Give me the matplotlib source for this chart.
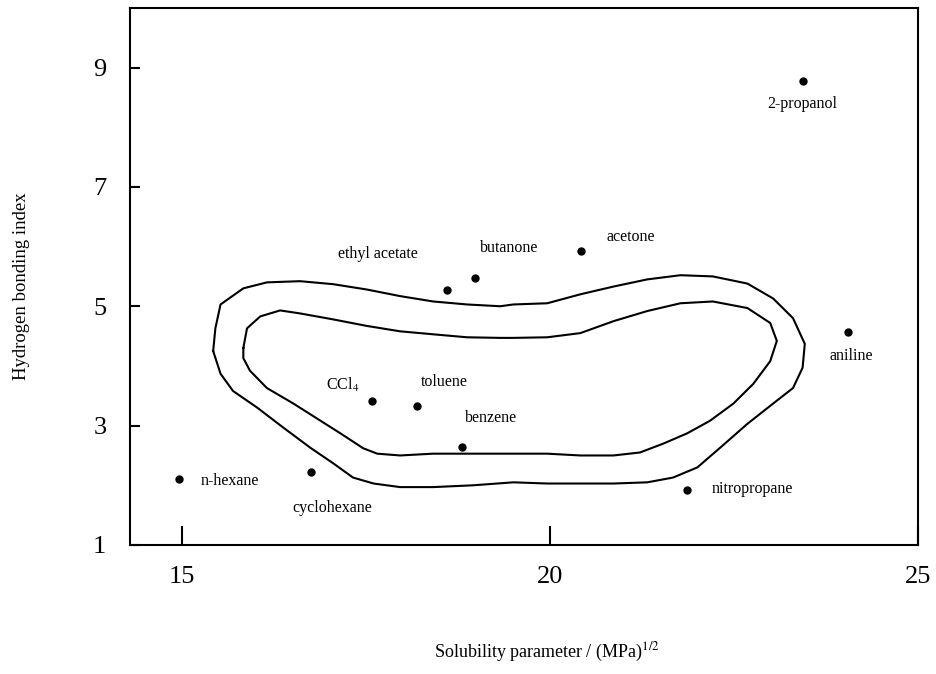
import numpy as np
import matplotlib.pyplot as plt

plt.rcParams['font.family'] = ['Liberation Serif', 'DejaVu Serif']
plt.rcParams['mathtext.fontset'] = 'stix'

# solvents: solubility parameter / (MPa)^1/2 and hydrogen bonding index
solvents = ['n-hexane', 'cyclohexane', 'CCl$_4$', 'toluene', 'benzene',
            'ethyl acetate', 'butanone', 'acetone', '2-propanol',
            'aniline', 'nitropropane']
delta = [14.95, 16.75, 17.58, 18.19, 18.80, 18.60, 18.98, 20.42, 23.44, 24.05, 21.86]
hbond = [2.10, 2.23, 3.42, 3.33, 2.65, 5.28, 5.47, 5.93, 8.77, 4.57, 1.92]

# label placement (offset in pixels, horizontal alignment)
label_offsets = [(22, -2, 'left'), (21, -36, 'center'), (-29, 16, 'center'),
                 (27, 24, 'center'), (29, 29, 'center'), (-69, 36, 'center'),
                 (34, 30, 'center'), (50, 14, 'center'), (-1, -23, 'center'),
                 (3, -24, 'center'), (25, 1, 'left')]

# solubility region boundaries (outer and inner)
outer_x = [15.42, 15.45, 15.52, 15.83, 16.15, 16.60, 17.05, 17.51, 17.96, 18.41,
           18.87, 19.32, 19.50, 19.96, 20.41, 20.86, 21.32, 21.77, 22.21, 22.68,
           23.03, 23.30, 23.46, 23.43, 23.30, 23.03, 22.68, 22.31, 22.00, 21.67,
           21.32, 20.86, 20.41, 19.96, 19.50, 18.95, 18.41, 17.96, 17.60, 17.32,
           17.05, 16.74, 16.37, 16.02, 15.69, 15.52]
outer_y = [4.25, 4.63, 5.03, 5.30, 5.40, 5.42, 5.37, 5.28, 5.17, 5.08,
           5.03, 5.00, 5.03, 5.05, 5.20, 5.33, 5.45, 5.52, 5.50, 5.38,
           5.13, 4.80, 4.37, 3.97, 3.63, 3.37, 3.03, 2.63, 2.30, 2.13,
           2.05, 2.03, 2.03, 2.03, 2.05, 2.00, 1.97, 1.97, 2.03, 2.13,
           2.37, 2.63, 2.97, 3.30, 3.58, 3.87]

inner_x = [15.83, 15.88, 16.06, 16.33, 16.60, 17.05, 17.51, 17.96, 18.41, 18.87,
           19.32, 19.50, 19.96, 20.41, 20.86, 21.32, 21.77, 22.21, 22.68, 22.99,
           23.08, 22.99, 22.76, 22.49, 22.17, 21.86, 21.54, 21.22, 20.86, 20.41,
           19.96, 19.50, 19.05, 18.41, 17.96, 17.65, 17.46, 17.15, 16.83, 16.51,
           16.15, 15.92, 15.83]
inner_y = [4.30, 4.63, 4.83, 4.93, 4.88, 4.78, 4.67, 4.58, 4.53, 4.48,
           4.47, 4.47, 4.48, 4.55, 4.75, 4.92, 5.05, 5.08, 4.97, 4.72,
           4.42, 4.08, 3.70, 3.37, 3.08, 2.87, 2.70, 2.55, 2.50, 2.50,
           2.53, 2.53, 2.53, 2.53, 2.50, 2.53, 2.62, 2.87, 3.12, 3.37,
           3.63, 3.92, 4.13]


fig = plt.figure(figsize=(9.36, 6.74), dpi=100)
ax = fig.add_axes([0.1389, 0.1914, 0.842, 0.797])

for cx, cy in [(outer_x, outer_y), (inner_x, inner_y)]:
    ax.plot(cx + cx[:1], cy + cy[:1], color='black', lw=1.5,
            solid_joinstyle='round')

ax.plot(delta, hbond, 'o', color='black', ms=5)

for name, x, y, (dx, dy, ha) in zip(solvents, delta, hbond, label_offsets):
    ax.annotate(name, (x, y), xytext=(dx, dy), textcoords='offset pixels',
                ha=ha, va='center', fontsize=11.5)

ax.set_xlim(14.29, 25.0)
ax.set_ylim(1, 10)

ax.set_xticks([15, 20, 25])
ax.set_yticks([1, 3, 5, 7, 9])
ax.tick_params(axis='x', direction='in', length=14, width=1.5, pad=15, labelsize=19)
ax.tick_params(axis='y', direction='in', length=7, width=1.5, pad=17, labelsize=19)

for s in ax.spines.values():
    s.set_linewidth(1.5)

ax.set_xlabel('Solubility parameter / (MPa)$^{1/2}$', fontsize=13)
ax.xaxis.set_label_coords(0.529, -0.178)
ax.set_ylabel('Hydrogen bonding index', fontsize=13.5)
ax.yaxis.set_label_coords(-0.127, 0.481)

fig.savefig('out.png', dpi=100)
